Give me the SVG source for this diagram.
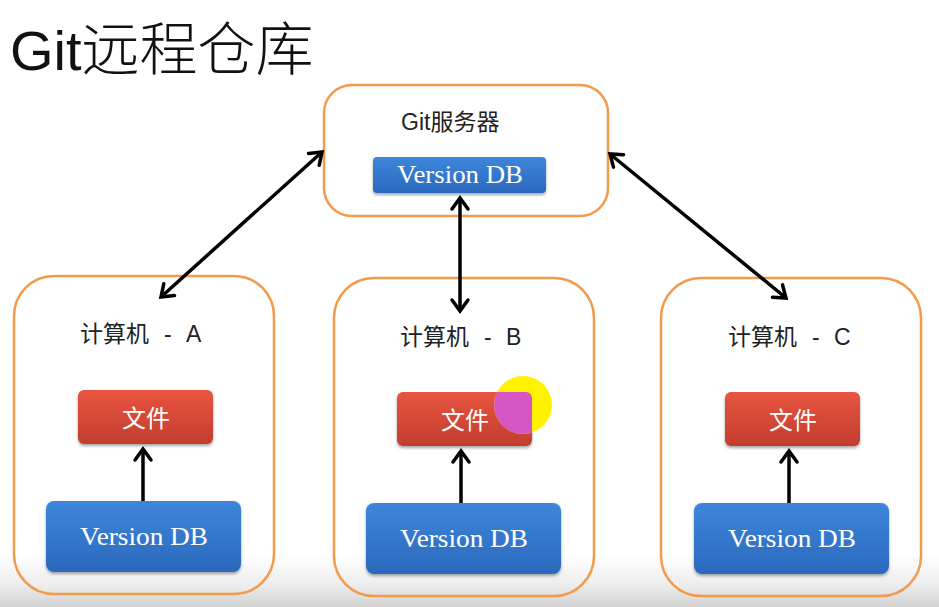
<svg xmlns="http://www.w3.org/2000/svg" width="939" height="607" viewBox="0 0 939 607">
<defs>
<style>
.frame{fill:none;stroke:#f39a4b;stroke-width:2.5}
.file{fill:url(#red);filter:url(#sh)}
.db{fill:url(#blue);filter:url(#sh)}
.lbl{font-family:"Liberation Sans","Noto Sans CJK SC",sans-serif;fill:#222;font-size:23px}
.ftxt{font-family:"Noto Sans CJK SC",sans-serif;fill:#fff;font-size:24px;text-anchor:middle}
.dtxt{font-family:"Liberation Serif","Noto Sans CJK SC",serif;fill:#fff;font-size:26px;text-anchor:middle}
.conn{stroke:#000;stroke-width:3.5;fill:none;marker-end:url(#ah)}
.both{marker-start:url(#ah)}
</style>
<linearGradient id="red" x1="0" y1="0" x2="0" y2="1"><stop offset="0" stop-color="#e8553f"/><stop offset="1" stop-color="#c23d2e"/></linearGradient>
<linearGradient id="blue" x1="0" y1="0" x2="0" y2="1"><stop offset="0" stop-color="#3d86db"/><stop offset="1" stop-color="#2b69bd"/></linearGradient>
<linearGradient id="bg" x1="0" y1="0" x2="0" y2="1"><stop offset="0" stop-color="#ffffff"/><stop offset="0.6" stop-color="#ececec"/><stop offset="1" stop-color="#d2d2d2"/></linearGradient>
<filter id="sh" x="-10%" y="-10%" width="120%" height="135%"><feDropShadow dx="0" dy="2" stdDeviation="1.6" flood-color="#000" flood-opacity="0.35"/></filter>
<marker id="ah" markerUnits="userSpaceOnUse" viewBox="-16 -12 20 24" refX="0" refY="0" markerWidth="20" markerHeight="24" orient="auto-start-reverse">
<path d="M-11,-8 L0,0 L-11,8" fill="none" stroke="#000" stroke-width="3.5" stroke-linecap="round"/>
</marker>
<clipPath id="clipB"><rect x="397" y="392" width="135" height="54" rx="6"/></clipPath>
</defs>
<rect width="939" height="607" fill="#fff"/>
<rect x="0" y="555" width="939" height="52" fill="url(#bg)"/>

<g id="title">
<text x="10" y="70" font-family="Liberation Sans,Noto Sans CJK SC,sans-serif" font-size="56" fill="#111">Git<tspan font-family="Noto Sans CJK SC,sans-serif" font-weight="300" font-size="58">远程仓库</tspan></text>
</g>

<g id="server">
<rect class="frame" x="324" y="85" width="284" height="131" rx="28"/>
<text class="lbl" x="401" y="130" font-size="25">Git服务器</text>
<rect class="db" x="373" y="157" width="173" height="36" rx="4"/>
<text class="dtxt" x="460" y="183" textLength="126" lengthAdjust="spacingAndGlyphs">Version DB</text>
</g>

<g id="pcA">
<rect class="frame" x="14" y="276" width="260" height="318" rx="40"/>
<text class="lbl" x="80" y="342">计算机<tspan x="164">-</tspan><tspan x="186">A</tspan></text>
<rect class="file" x="78" y="390" width="135" height="54" rx="6"/>
<text class="ftxt" x="146" y="427">文件</text>
<rect class="db" x="46" y="501" width="195" height="71" rx="8"/>
<text class="dtxt" x="144" y="545" textLength="128" lengthAdjust="spacingAndGlyphs">Version DB</text>
</g>

<g id="pcB">
<rect class="frame" x="334" y="278" width="260" height="318" rx="40"/>
<text class="lbl" x="400" y="345">计算机<tspan x="484">-</tspan><tspan x="506">B</tspan></text>
<rect class="file" x="397" y="392" width="135" height="54" rx="6"/>
<text class="ftxt" x="465" y="429">文件</text>
<rect class="db" x="366" y="503" width="195" height="71" rx="8"/>
<text class="dtxt" x="464" y="547" textLength="128" lengthAdjust="spacingAndGlyphs">Version DB</text>
</g>

<g id="pcC">
<rect class="frame" x="661" y="278" width="260" height="318" rx="40"/>
<text class="lbl" x="728" y="345">计算机<tspan x="812">-</tspan><tspan x="834">C</tspan></text>
<rect class="file" x="725" y="392" width="135" height="54" rx="6"/>
<text class="ftxt" x="793" y="429">文件</text>
<rect class="db" x="694" y="503" width="195" height="71" rx="8"/>
<text class="dtxt" x="792" y="547" textLength="128" lengthAdjust="spacingAndGlyphs">Version DB</text>
</g>

<g id="connectors">
<line class="conn both" x1="322" y1="152" x2="161" y2="297"/>
<line class="conn both" x1="460" y1="198" x2="460" y2="311"/>
<line class="conn both" x1="610" y1="154" x2="786" y2="298"/>
<line class="conn" x1="143" y1="501" x2="143" y2="449"/>
<line class="conn" x1="461" y1="503" x2="461" y2="451"/>
<line class="conn" x1="789" y1="503" x2="789" y2="451"/>
</g>

<g id="cursor-highlight">
<circle cx="523" cy="405" r="29" fill="#fff200"/>
<circle cx="523" cy="405" r="29" fill="#d656c4" clip-path="url(#clipB)"/>
</g>
</svg>
